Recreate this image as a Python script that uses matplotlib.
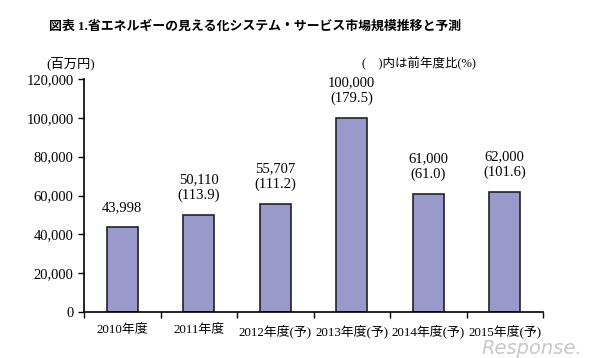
import matplotlib.pyplot as plt
import numpy as np

years = ['2010年度', '2011年度', '2012年度(予)', '2013年度(予)', '2014年度(予)', '2015年度(予)']
values = [43998, 50110, 55707, 100000, 61000, 62000]
ratios = [None, 113.9, 111.2, 179.5, 61.0, 101.6]

plt.rcParams['font.family'] = ['Liberation Serif', 'Noto Sans CJK JP']

fig = plt.figure(figsize=(5.98, 3.58), dpi=100)
ax = fig.add_axes([84 / 598, 1 - 312 / 358, (543 - 84) / 598, (312 - 79) / 358])

x = np.arange(len(years))
ax.bar(x, values, width=0.4, color='#9999cc', edgecolor='#222222', linewidth=1.2)

for xi, v, r in zip(x, values, ratios):
    txt = f'{v:,}' if r is None else f'{v:,}\n({r})'
    ax.annotate(txt, (xi, v), xytext=(0, 9), textcoords='offset points',
                ha='center', va='bottom', fontsize=10.5, linespacing=1.25)

ax.set_xlim(-0.5, len(years) - 0.5)
ax.set_ylim(0, 120000)
ax.set_yticks(range(0, 120001, 20000))
ax.set_yticklabels([f'{t:,}' for t in range(0, 120001, 20000)], fontsize=10.5)
ax.set_xticks(x)
ax.set_xticklabels(years, fontsize=9.3)
ax.set_xticks(np.arange(-0.5, len(years)), minor=True)
ax.tick_params(axis='x', which='major', length=0, pad=9)
ax.tick_params(axis='x', which='minor', length=4, direction='out', width=1)
ax.tick_params(axis='y', length=4, direction='out', width=1)
ax.spines['top'].set_visible(False)
ax.spines['right'].set_visible(False)
ax.spines['left'].set_linewidth(1.2)
ax.spines['bottom'].set_linewidth(1.2)

fig.text(49 / 598, 1 - 27 / 358, '図表 1.省エネルギーの見える化システム・サービス市場規模推移と予測',
         ha='left', va='center', fontsize=9.3, fontweight='bold')
fig.text(71 / 598, 1 - 63 / 358, '(百万円)', ha='center', va='center', fontsize=9.5)
fig.text(419 / 598, 1 - 63 / 358, '(\u3000)内は前年度比(%)', ha='center', va='center', fontsize=9)
fig.text(532 / 598, 1 - 348 / 358, 'Response.', ha='center', va='center', fontsize=14,
         color='#c8c8c8', style='italic', family='DejaVu Sans')

fig.savefig('out.png', dpi=100)
